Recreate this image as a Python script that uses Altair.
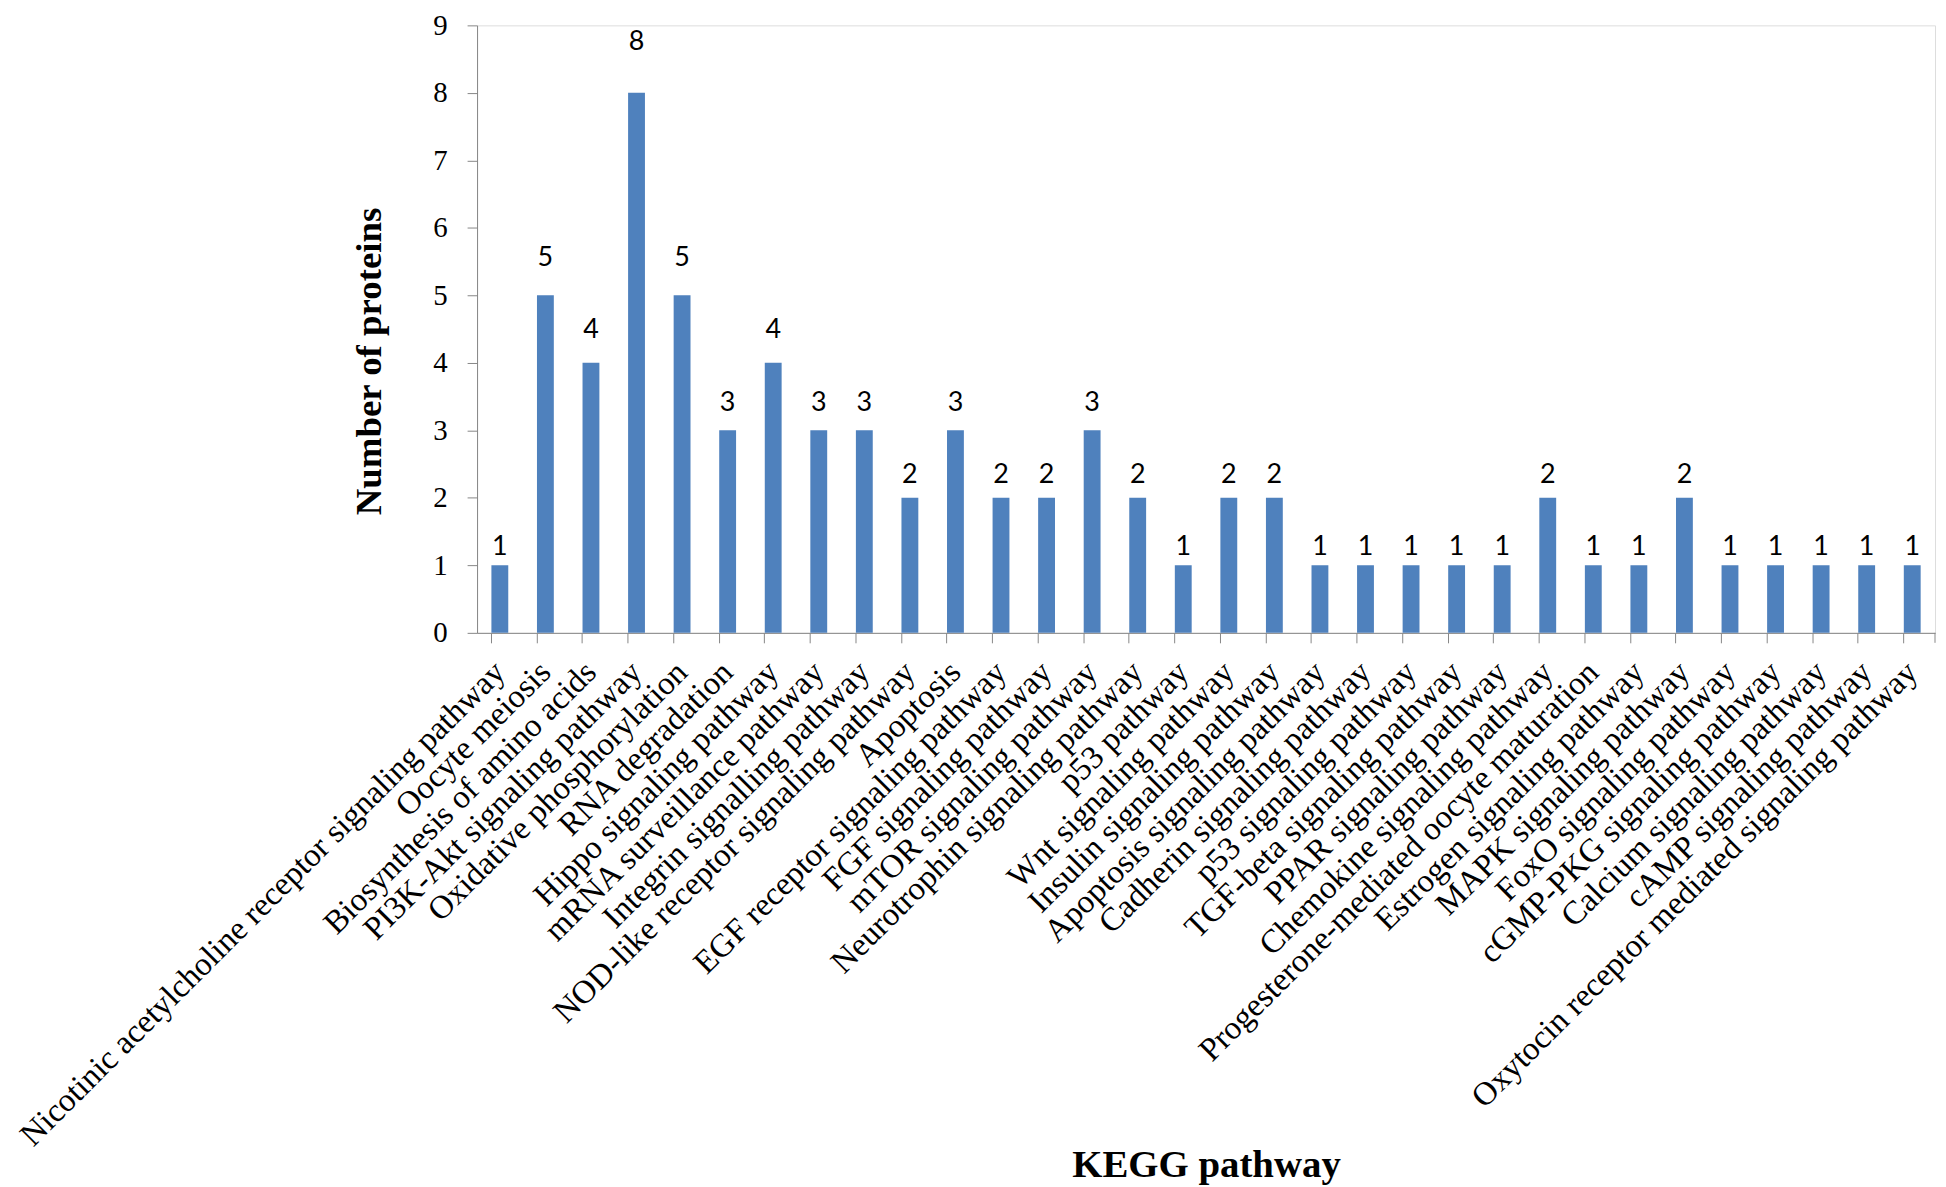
import altair as alt
import pandas as pd

pathways = [
    "Nicotinic acetylcholine receptor signaling pathway",
    "Oocyte meiosis",
    "Biosynthesis of amino acids",
    "PI3K-Akt signaling pathway",
    "Oxidative phosphorylation",
    "RNA degradation",
    "Hippo signaling pathway",
    "mRNA surveillance pathway",
    "Integrin signalling pathway",
    "NOD-like receptor signaling pathway",
    "Apoptosis",
    "EGF receptor signaling pathway",
    "FGF signaling pathway",
    "mTOR signaling pathway",
    "Neurotrophin signaling pathway",
    "p53 pathway",
    "Wnt signaling pathway",
    "Insulin signaling pathway",
    "Apoptosis signaling pathway",
    "Cadherin signaling pathway",
    "p53 signaling pathway",
    "TGF-beta signaling pathway",
    "PPAR signaling pathway",
    "Chemokine signaling pathway",
    "Progesterone-mediated oocyte maturation",
    "Estrogen signaling pathway",
    "MAPK signaling pathway",
    "FoxO signaling pathway",
    "cGMP-PKG signaling pathway",
    "Calcium signaling pathway",
    "cAMP signaling pathway",
    "Oxytocin receptor mediated signaling pathway",
]
counts = [1, 5, 4, 8, 5, 3, 4, 3, 3, 2, 3, 2, 2, 3, 2, 1, 2, 2, 1, 1, 1, 1, 1, 2, 1, 1, 2, 1, 1, 1, 1, 1]

df = pd.DataFrame({"pathway": pathways, "count": counts})

W, H = 1464, 610
AXIS_GREY = "#868686"

x = alt.X(
    "pathway:N",
    sort=None,
    scale=alt.Scale(paddingInner=0.63, paddingOuter=0.315),
    axis=alt.Axis(
        title="KEGG pathway",
        titleFont="Liberation Serif",
        titleFontSize=39,
        titleFontWeight="bold",
        titleColor="black",
        titleY=546,
        titleBaseline="alphabetic",
        labelAngle=-45,
        labelAlign="right",
        labelBaseline="middle",
        labelFont="Liberation Serif",
        labelFontSize=33,
        labelColor="black",
        labelPadding=24,
        labelOverlap=False,
        labelLimit=0,
        bandPosition=0,
        tickSize=10,
        tickColor=AXIS_GREY,
        domainColor=AXIS_GREY,
        grid=False,
    ),
)

y = alt.Y(
    "count:Q",
    scale=alt.Scale(domain=[0, 9], nice=False),
    axis=alt.Axis(
        title="Number of proteins",
        titleFont="Liberation Serif",
        titleFontSize=37,
        titleFontWeight="bold",
        titleColor="black",
        titlePadding=44,
        titleY=337,
        values=list(range(0, 10)),
        format="d",
        labelFont="Liberation Serif",
        labelFontSize=29,
        labelColor="black",
        labelPadding=20,
        tickSize=10,
        tickColor=AXIS_GREY,
        domainColor=AXIS_GREY,
        grid=False,
    ),
)

bars = alt.Chart(df).mark_bar(color="#4F81BD").encode(x=x, y=y)

labels = (
    alt.Chart(df)
    .transform_calculate(label_pos="datum.count * 1.07 + 0.2")
    .mark_text(baseline="middle", font="Lato", fontSize=27, color="black")
    .encode(x=alt.X("pathway:N", sort=None), y=alt.Y("label_pos:Q"), text="count:Q")
)

end_tick = (
    alt.Chart(df.head(1))
    .mark_rule(color=AXIS_GREY)
    .encode(x=alt.value(W), y=alt.value(H), y2=alt.value(H + 10))
)

chart = (
    alt.layer(bars, labels, end_tick)
    .properties(
        width=W,
        height=H,
        autosize=alt.AutoSizeParams(type="none"),
        padding={"left": 471, "top": 15, "right": 3, "bottom": 554},
    )
    .configure_view(stroke=None)
    .configure(background="white")
)

chart.save("out.html", embed_options={"renderer": "svg", "actions": False})
